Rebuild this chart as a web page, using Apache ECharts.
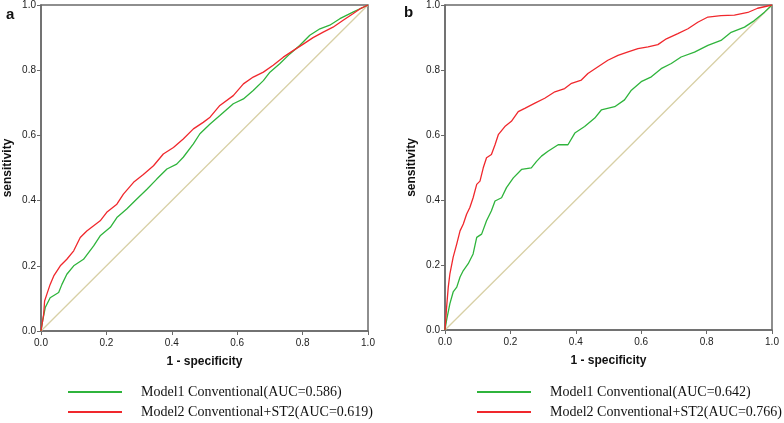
<!DOCTYPE html>
<html><head><meta charset="utf-8">
<script src="https://cdn.jsdelivr.net/npm/echarts@6/dist/echarts.min.js"></script>
<style>html,body{margin:0;padding:0;background:#fff}#c{width:784px;height:423px}</style>
</head><body><div id="c"></div>
<script>
// Panel a
const aRedFpr = [0,0.008,0.011,0.018,0.028,0.039,0.059,0.079,0.1,0.12,0.14,0.161,0.181,0.201,0.232,0.252,0.283,0.313,0.344,0.374,0.405,0.435,0.466,0.496,0.517,0.547,0.588,0.619,0.649,0.68,0.71,0.741,0.771,0.802,0.832,0.863,0.893,0.924,0.954,0.975,1];
const aRedTpr = [0,0.05,0.092,0.113,0.143,0.169,0.2,0.22,0.246,0.287,0.307,0.323,0.338,0.364,0.389,0.42,0.456,0.48,0.507,0.543,0.563,0.589,0.62,0.64,0.656,0.692,0.722,0.758,0.779,0.794,0.815,0.84,0.86,0.88,0.9,0.917,0.932,0.953,0.973,0.988,1];
const aGreenFpr = [0,0.005,0.013,0.028,0.054,0.064,0.079,0.1,0.13,0.161,0.181,0.212,0.232,0.262,0.293,0.324,0.354,0.385,0.415,0.435,0.466,0.486,0.517,0.547,0.588,0.619,0.649,0.68,0.7,0.73,0.761,0.791,0.822,0.853,0.883,0.914,0.954,1];
const aGreenTpr = [0,0.031,0.072,0.102,0.118,0.143,0.174,0.2,0.22,0.261,0.292,0.318,0.348,0.374,0.405,0.435,0.466,0.497,0.512,0.533,0.574,0.605,0.635,0.661,0.697,0.712,0.738,0.768,0.794,0.82,0.85,0.876,0.907,0.927,0.938,0.958,0.978,1];
// Panel b
const bRedFpr = [0,0.005,0.01,0.015,0.025,0.036,0.046,0.056,0.066,0.076,0.086,0.097,0.107,0.117,0.127,0.142,0.153,0.163,0.183,0.203,0.224,0.244,0.275,0.305,0.336,0.366,0.387,0.417,0.437,0.468,0.498,0.529,0.56,0.59,0.621,0.651,0.677,0.712,0.743,0.773,0.804,0.844,0.885,0.926,0.956,1];
const bRedTpr = [0,0.071,0.132,0.173,0.224,0.265,0.305,0.326,0.356,0.377,0.407,0.448,0.458,0.499,0.53,0.54,0.57,0.601,0.626,0.642,0.672,0.682,0.698,0.713,0.733,0.743,0.759,0.769,0.789,0.81,0.83,0.845,0.856,0.866,0.871,0.878,0.896,0.912,0.927,0.947,0.963,0.967,0.969,0.977,0.99,1];
const bGreenFpr = [0,0.005,0.015,0.025,0.036,0.046,0.056,0.071,0.086,0.097,0.112,0.127,0.142,0.153,0.173,0.188,0.209,0.234,0.264,0.28,0.295,0.315,0.346,0.376,0.397,0.427,0.458,0.478,0.519,0.549,0.57,0.6,0.631,0.661,0.692,0.722,0.763,0.804,0.844,0.875,0.916,0.946,0.977,1];
const bGreenTpr = [0,0.031,0.081,0.117,0.132,0.163,0.183,0.204,0.234,0.285,0.295,0.336,0.367,0.397,0.407,0.438,0.468,0.494,0.499,0.519,0.535,0.55,0.57,0.57,0.606,0.626,0.652,0.677,0.687,0.708,0.738,0.764,0.779,0.804,0.82,0.84,0.855,0.876,0.891,0.916,0.932,0.952,0.978,1];
const diagX = [0,1];
const diagY = [0,1];
const tickLabels = ['0.0','0.2','0.4','0.6','0.8','1.0'];
const panelLabels = ['a','b'];
const legendA = ['Model1 Conventional(AUC=0.586)','Model2 Conventional+ST2(AUC=0.619)'];
const legendB = ['Model1 Conventional(AUC=0.642)','Model2 Conventional+ST2(AUC=0.766)'];

const zip = (xs, ys) => xs.map((x, i) => [x, ys[i]]);
const GREEN = '#2fb43c', RED = '#f0282d', DIAG = '#d8d0a6', FRAME = '#6a6a6a';

function axisX(gi) {
  return {
    type: 'value', gridIndex: gi, min: 0, max: 1, interval: 0.2,
    name: '1 - specificity', nameLocation: 'middle', nameGap: 25,
    nameTextStyle: { fontFamily: 'Liberation Sans', fontWeight: 'bold', fontSize: 12, color: '#111' },
    axisLine: { show: true, lineStyle: { color: FRAME, width: 1.5 } },
    axisTick: { show: true, length: 4, lineStyle: { color: FRAME, width: 1 } },
    axisLabel: { fontFamily: 'Liberation Sans', fontSize: 10, color: '#222', margin: 7,
      formatter: v => tickLabels[Math.round(v * 5)] },
    splitLine: { show: false }
  };
}
function axisY(gi) {
  return {
    type: 'value', gridIndex: gi, min: 0, max: 1, interval: 0.2,
    name: 'sensitivity', nameLocation: 'middle', nameGap: 27, nameRotate: 90,
    nameTextStyle: { fontFamily: 'Liberation Sans', fontWeight: 'bold', fontSize: 12, color: '#111' },
    axisLine: { show: true, lineStyle: { color: FRAME, width: 1.5 } },
    axisTick: { show: true, length: 4, lineStyle: { color: FRAME, width: 1 } },
    axisLabel: { fontFamily: 'Liberation Sans', fontSize: 10, color: '#222', margin: 5,
      formatter: v => tickLabels[Math.round(v * 5)] },
    splitLine: { show: false }
  };
}
function line(name, gi, data, color, z) {
  return { type: 'line', name, xAxisIndex: gi, yAxisIndex: gi, data, showSymbol: false,
    symbol: 'none', lineStyle: { color, width: 1.3 }, itemStyle: { color }, z, animation: false };
}
function legend(name, left, top) {
  return {
    data: [name], orient: 'horizontal', left, top, itemWidth: 54, itemHeight: 2,
    icon: 'rect', selectedMode: false, padding: 0,
    textStyle: { fontFamily: 'Liberation Serif', fontSize: 14, color: '#111', padding: [0, 0, 0, 14] }
  };
}

const chart = echarts.init(document.getElementById('c'), null, { renderer: 'canvas' });
chart.setOption({
  animation: false,
  backgroundColor: '#fff',
  title: [
    { text: panelLabels[0], left: 1, top: 2, textStyle: { fontFamily: 'Liberation Sans', fontWeight: 'bold', fontSize: 15, color: '#111' } },
    { text: panelLabels[1], left: 399, top: 0, textStyle: { fontFamily: 'Liberation Sans', fontWeight: 'bold', fontSize: 15, color: '#111' } }
  ],
  grid: [
    { left: 41, top: 5, width: 327, height: 326, show: true, borderColor: FRAME, borderWidth: 1.5, backgroundColor: 'transparent' },
    { left: 445, top: 4, width: 327, height: 326, show: true, borderColor: FRAME, borderWidth: 1.5, backgroundColor: 'transparent' }
  ],
  xAxis: [axisX(0), axisX(1)],
  yAxis: [axisY(0), axisY(1)],
  legend: [legend(legendA[0], 68, 385), legend(legendA[1], 68, 405), legend(legendB[0], 477, 385), legend(legendB[1], 477, 405)],
  series: [
    line('diagA', 0, zip(diagX, diagY), DIAG, 1),
    line(legendA[0], 0, zip(aGreenFpr, aGreenTpr), GREEN, 2),
    line(legendA[1], 0, zip(aRedFpr, aRedTpr), RED, 3),
    line('diagB', 1, zip(diagX, diagY), DIAG, 1),
    line(legendB[0], 1, zip(bGreenFpr, bGreenTpr), GREEN, 2),
    line(legendB[1], 1, zip(bRedFpr, bRedTpr), RED, 3)
  ]
});
</script></body></html>
